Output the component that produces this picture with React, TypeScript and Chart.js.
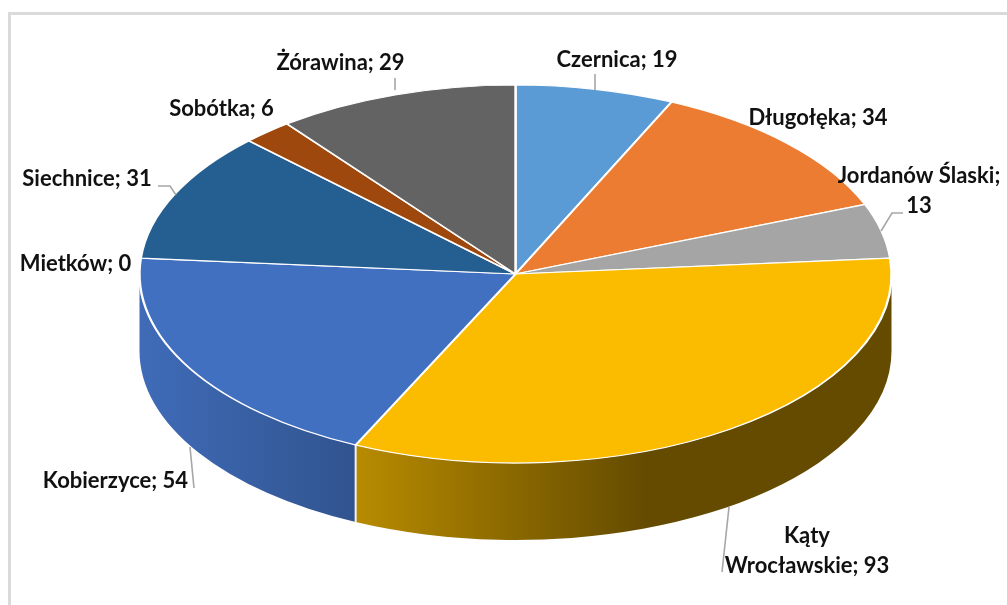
import React, { useEffect, useRef } from "react";
import { Chart, registerables } from "chart.js";

Chart.register(...registerables);

const categories = ["Czernica", "Długołęka", "Jordanów Ślaski", "Kąty Wrocławskie", "Mietków", "Kobierzyce", "Siechnice", "Sobótka", "Żórawina"];
const values = [19, 34, 13, 93, 0, 54, 31, 6, 29];
const colors = ["#5B9BD5", "#EB7C31", "#A5A5A5", "#FBBC00", "#4472C4", "#4170C1", "#255E91", "#9E480E", "#636363"];
// wall gradient per slice: [left colour, right colour, fraction where right colour is reached]
const wallStops: Record<number, [string, string, number]> = {
  3: ["#B88B00", "#644B00", 0.54],
  5: ["#3F6BB8", "#31548F", 1],
};
const labelLines = [["Czernica; 19"], ["Długołęka; 34"], ["Jordanów Ślaski;", "13"], ["Kąty", "Wrocławskie; 93"], ["Mietków; 0"], ["Kobierzyce; 54"], ["Siechnice; 31"], ["Sobótka; 6"], ["Żórawina; 29"]];
const labelX = [617, 818, 919, 807, 75.5, 115.5, 87, 221.5, 340.5];
const labelY = [60, 118, 176, 536, 264, 481, 179, 109, 63];
const leaderLines: number[][][] = [
  [[595, 74], [595, 90]],
  [[903, 213], [892, 213], [881, 231]],
  [[722, 572], [729, 507]],
  [[194, 488], [190, 447]],
  [[158, 186], [170, 186], [176, 195]],
  [[395, 78], [395, 90]],
];

const SQUASH = 189 / 376;
const DEPTH = 77;

const pie3d = {
  id: "pie3d",
  beforeDatasetsDraw(chart: any) {
    const arcs = chart.getDatasetMeta(0).data;
    const { x, y } = arcs[0];
    const { ctx } = chart;
    ctx.save();
    ctx.translate(x, y);
    ctx.scale(1, SQUASH);
    ctx.translate(-x, -y);
    const d = DEPTH / SQUASH;
    arcs.forEach((arc: any, i: number) => {
      const stops = wallStops[i];
      if (!stops) return;
      const norm = (a: number) => Math.atan2(Math.sin(a), Math.cos(a));
      let a0 = norm(arc.startAngle);
      let a1 = a0 + (arc.endAngle - arc.startAngle);
      a0 = Math.max(a0, 0);
      a1 = Math.min(a1, Math.PI);
      if (a1 <= a0) return;
      const r = arc.outerRadius;
      const xs = [x + r * Math.cos(a0), x + r * Math.cos(a1)];
      const xl = Math.min(...xs);
      const xr = Math.max(...xs);
      const g = ctx.createLinearGradient(xl, 0, xr, 0);
      g.addColorStop(0, stops[0]);
      g.addColorStop(stops[2], stops[1]);
      g.addColorStop(1, stops[1]);
      ctx.beginPath();
      ctx.arc(x, y, r, a0, a1);
      ctx.arc(x, y + d, r, a1, a0, true);
      ctx.closePath();
      ctx.fillStyle = g;
      ctx.fill();
    });
    // white seam between the walls, at each slice boundary in the front half
    arcs.forEach((arc: any) => {
      if (arc.endAngle === arc.startAngle) return;
      const a = Math.atan2(Math.sin(arc.endAngle), Math.cos(arc.endAngle));
      if (a <= 0.02 || a >= Math.PI - 0.02) return;
      const px = x + arc.outerRadius * Math.cos(a);
      const py = y + arc.outerRadius * Math.sin(a);
      ctx.beginPath();
      ctx.moveTo(px, py);
      ctx.lineTo(px, py + d);
      ctx.strokeStyle = "#F4F4F4";
      ctx.lineWidth = 2;
      ctx.stroke();
    });
  },
  afterDatasetsDraw(chart: any) {
    const { ctx } = chart;
    ctx.restore();
    ctx.save();
    ctx.strokeStyle = "#A6A6A6";
    ctx.lineWidth = 1.6;
    leaderLines.forEach((pts) => {
      ctx.beginPath();
      pts.forEach(([px, py], k) => (k ? ctx.lineTo(px, py) : ctx.moveTo(px, py)));
      ctx.stroke();
    });
    ctx.fillStyle = "#111111";
    ctx.font = 'bold 22px Lato, "Open Sans", sans-serif';
    ctx.textAlign = "center";
    ctx.textBaseline = "middle";
    labelLines.forEach((lines, i) => {
      lines.forEach((t, k) => ctx.fillText(t, labelX[i], labelY[i] + k * 30));
    });
    ctx.restore();
  },
};

export default function App() {
  const ref = useRef<HTMLCanvasElement>(null);
  useEffect(() => {
    const chart = new Chart(ref.current!, {
      type: "pie",
      data: {
        labels: categories,
        datasets: [{
          data: values,
          backgroundColor: colors,
          borderColor: "#FFFFFF",
          borderWidth: 2.4,
          clip: false,
        } as any],
      },
      options: {
        responsive: false,
        animation: false,
        radius: 376,
        layout: { padding: { left: 24, right: 0, top: 0, bottom: 57 } },
        plugins: { legend: { display: false }, tooltip: { enabled: false } },
      } as any,
      plugins: [pie3d],
    });
    return () => chart.destroy();
  }, []);
  return (
    <div style={{ position: "absolute", left: 0, top: 0, width: 1007, height: 605, overflow: "hidden", background: "#fff" }}>
      <div style={{ position: "absolute", left: 8, top: 12, width: 999, height: 593, boxSizing: "border-box", borderLeft: "3px solid #DADADA", borderTop: "3px solid #DADADA" }} />
      <canvas ref={ref} width={1007} height={605} style={{ position: "absolute", left: 0, top: 0, display: "block", filter: "blur(0.45px)" }} />
    </div>
  );
}
